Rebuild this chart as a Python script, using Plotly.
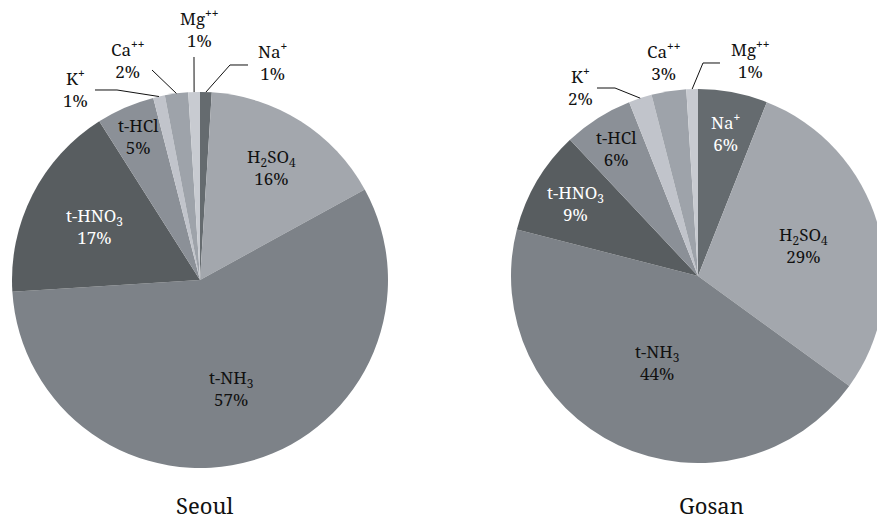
import math
import plotly.graph_objects as go

# Ion / precursor shares (%) at the two sites
categories = ["Na+", "H2SO4", "t-NH3", "t-HNO3", "t-HCl", "K+", "Ca++", "Mg++"]
display_names = ["Na<sup><b>+</b></sup>", "H<sub>2</sub>SO<sub>4</sub>", "t-NH<sub>3</sub>",
                 "t-HNO<sub>3</sub>", "t-HCl", "K<sup><b>+</b></sup>",
                 "Ca<sup><b>++</b></sup>", "Mg<sup><b>++</b></sup>"]
seoul_pct = [1, 16, 57, 17, 5, 1, 2, 1]
gosan_pct = [6, 29, 44, 9, 6, 2, 3, 1]
site_names = ["Seoul", "Gosan"]

slice_colors = ["#656b6f", "#a3a7ad", "#7d8288", "#585d60",
                "#8b9097", "#c1c4cb", "#9ea3aa", "#c8cbd1"]

# Canvas (the Gosan pie runs past the right edge of the 877 px page)
W, H = 886, 521
FONT = "Noto Serif, DejaVu Serif, serif"
LABEL_SIZE = 17
TITLE_SIZE = 22

# Pie geometry in pixels: centre x, centre y, radius
pies = [
    dict(cx=200, cy=280, r=188, title_xy=(204, 505)),
    dict(cx=698, cy=276, r=187, title_xy=(711, 505)),
]

# Label placement per slice.
#  ("in", radial fraction, text colour)
#  ("out", label dx, dy from pie centre, leader end dx, dy from label, elbow length)
label_layout = [
    {0: ("out", 72, -218, -24, 3, -18), 1: ("in", 0.71, "#111111"), 2: ("in", 0.60, "#111111"),
     3: ("in", 0.63, "#ffffff"), 4: ("in", 0.83, "#111111"),
     5: ("out", -125, -191, 20, 1, 22), 6: ("out", -73, -221, 25, 11, 0),
     7: ("out", -1, -251, -5, 28, 0)},
    {0: ("in", 0.78, "#ffffff"), 1: ("in", 0.59, "#111111"), 2: ("in", 0.51, "#111111"),
     3: ("in", 0.76, "#ffffff"), 4: ("in", 0.81, "#111111"),
     5: ("out", -118, -190, 17, 2, 18), 6: ("out", -35, -215, None, None, None),
     7: ("out", 52, -217, -30, 4, -17)},
]


def px(x):
    return x / W


def py(y):
    return 1 - y / H


fig = go.Figure()
annotations = []
shapes = []

for site, values, geo, layout in zip(site_names, [seoul_pct, gosan_pct], pies, label_layout):
    cx, cy, r = geo["cx"], geo["cy"], geo["r"]
    fig.add_trace(go.Pie(
        labels=categories,
        values=values,
        sort=False,
        direction="clockwise",
        rotation=0,
        marker=dict(colors=slice_colors, line=dict(width=0)),
        textinfo="none",
        hoverinfo="label+percent",
        showlegend=False,
        domain=dict(x=[px(cx - r), px(cx + r)], y=[py(cy + r), py(cy - r)]),
        name=site,
    ))

    total = sum(values)
    cum = 0.0
    for i, v in enumerate(values):
        mid = (cum + v / 2) / total * 2 * math.pi
        cum += v
        sx, sy = math.sin(mid), -math.cos(mid)
        text = f"{display_names[i]}<br>{v}%"
        spec = layout[i]
        if spec[0] == "in":
            frac, color = spec[1], spec[2]
            lx, ly = cx + frac * r * sx, cy + frac * r * sy
        else:
            color = "#111111"
            lx, ly = cx + spec[1], cy + spec[2]
            if spec[3] is not None:
                ex, ey = lx + spec[3], ly + spec[4]
                p0 = (cx + r * sx, cy + r * sy)
                pts = [p0]
                if spec[5]:
                    pts.append((ex + spec[5], ey))
                pts.append((ex, ey))
                path = "M " + " L ".join(f"{px(a):.5f},{py(b):.5f}" for a, b in pts)
                shapes.append(dict(type="path", path=path, xref="paper", yref="paper",
                                   line=dict(color="#111111", width=1)))
        annotations.append(dict(
            x=px(lx), y=py(ly), xref="paper", yref="paper", text=text,
            showarrow=False, xanchor="center", yanchor="middle", align="center",
            font=dict(family=FONT, size=LABEL_SIZE, color=color),
        ))

    tx, ty = geo["title_xy"]
    annotations.append(dict(
        x=px(tx), y=py(ty), xref="paper", yref="paper", text=site,
        showarrow=False, xanchor="center", yanchor="middle",
        font=dict(family=FONT, size=TITLE_SIZE, color="#111111"),
    ))

fig.update_layout(
    width=W, height=H,
    margin=dict(l=0, r=0, t=0, b=0),
    paper_bgcolor="white",
    plot_bgcolor="white",
    annotations=annotations,
    shapes=shapes,
    font=dict(family=FONT),
)

fig.write_html(
    "out.html",
    post_script="document.documentElement.style.overflow='hidden';document.body.style.overflow='hidden';",
)
